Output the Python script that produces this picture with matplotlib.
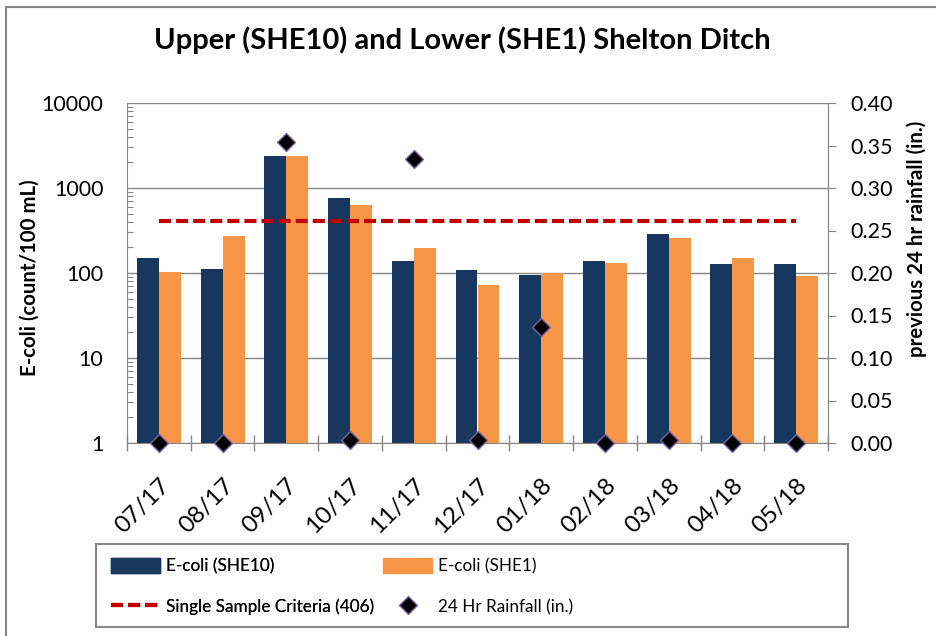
import numpy as np
import matplotlib
matplotlib.use('Agg')
import matplotlib.pyplot as plt
from matplotlib.patches import Rectangle, Patch
from matplotlib.lines import Line2D

plt.rcParams['font.family'] = ['Lato', 'DejaVu Sans']

months = ['07/17', '08/17', '09/17', '10/17', '11/17', '12/17',
          '01/18', '02/18', '03/18', '04/18', '05/18']
she10 = [151, 111, 2400, 760, 138, 108, 95, 140, 285, 128, 128]
she1 = [103, 272, 2400, 635, 195, 73, 99, 131, 256, 151, 91]
rain = [0.0, 0.0, 0.354, 0.003, 0.334, 0.003, 0.137, 0.0, 0.003, 0.0, 0.0]
criteria = 406

navy = '#17375E'
orange = '#F79646'
red = '#C00000'
grey = '#868686'

W, H = 936, 636
fig = plt.figure(figsize=(W / 100, H / 100), dpi=100)

# outer chart border (cut off on right/bottom like the original)
fig.patches.append(Rectangle((6 / W, -0.05), 1.2, 1 - 7 / H + 0.05,
                             transform=fig.transFigure, fill=False,
                             edgecolor=grey, lw=1.5))
# legend box
fig.patches.append(Rectangle((96 / W, 1 - 627 / H), (848 - 96) / W, (627 - 544) / H,
                             transform=fig.transFigure, fill=False,
                             edgecolor=grey, lw=1.5))

ax = fig.add_axes([127 / W, 1 - 443 / H, (828 - 127) / W, (443 - 103) / H])
x = np.arange(len(months))
bw = 0.345
ax.bar(x - bw / 2, she10, bw, color=navy, zorder=2)
ax.bar(x + bw / 2, she1, bw, color=orange, zorder=2)
ax.plot(x, np.full(len(x), criteria), color=red, lw=3,
        dashes=(2.9, 1.2), zorder=3)

ax.set_yscale('log')
ax.set_ylim(1, 10000)
ax.set_xlim(-0.5, len(x) - 0.5)
ax.set_yticks([1, 10, 100, 1000, 10000])
ax.set_yticklabels(['1', '10', '100', '1000', '10000'])
ax.yaxis.grid(True, which='major', color=grey, lw=1, zorder=0)
ax.tick_params(axis='y', which='major', direction='in', length=0, pad=17,
               labelsize=15.5, color=grey)
ax.tick_params(axis='y', which='minor', direction='in', length=4.5,
               color=grey, width=0.8)
ax.set_xticks(np.arange(-0.5, len(x), 1.0))
ax.set_xticklabels([])
ax.set_xticks(x, minor=True)
ax.set_xticklabels(months, minor=True, rotation=45, ha='right',
                   rotation_mode='anchor', fontsize=17.5)
ax.tick_params(axis='x', which='major', direction='inout', length=11,
               color=grey, width=1)
ax.tick_params(axis='x', which='minor', length=0, pad=23)
for s in ax.spines.values():
    s.set_color(grey)
ax.spines['top'].set_visible(False)

ax2 = ax.twinx()
ax2.set_ylim(0, 0.4)
ax2.set_yticks(np.arange(0, 0.41, 0.05))
ax2.set_yticklabels(['%.2f' % v for v in np.arange(0, 0.41, 0.05)])
ax2.tick_params(axis='y', direction='out', length=6, pad=10, labelsize=15.5,
                color=grey)
for s in ax2.spines.values():
    s.set_visible(False)
ax2.spines['right'].set_visible(True)
ax2.spines['right'].set_color(grey)
ax2.plot(x, rain, linestyle='none', marker='D', ms=9, color='black',
         markeredgecolor='#8064A2', markeredgewidth=1, zorder=5, clip_on=False)

fig.text(462 / W, 1 - 40 / H, 'Upper (SHE10) and Lower (SHE1) Shelton Ditch',
         ha='center', va='center', fontsize=21, fontweight='bold')
fig.text(30 / W, 1 - 278 / H, 'E-coli (count/100 mL)', rotation=90,
         ha='center', va='center', fontsize=14.7, fontweight='bold')
fig.text(917 / W, 1 - 239 / H, 'previous 24 hr rainfall (in.)', rotation=90,
         ha='center', va='center', fontsize=14.7, fontweight='bold')

leg_kw = dict(loc='center left', fontsize=12.3, handlelength=2.87,
              handleheight=1.0, handletextpad=0.35, labelspacing=1.43,
              borderpad=0, borderaxespad=0, frameon=False)
leg1 = fig.legend([Patch(color=navy),
                   Line2D([], [], color=red, lw=3, dashes=(2.9, 1.2))],
                  ['E-coli (SHE10)', 'Single Sample Criteria (406)'],
                  bbox_to_anchor=(111 / W, 1 - 586.5 / H), **leg_kw)
fig.add_artist(leg1)
fig.legend([Patch(color=orange),
            Line2D([], [], linestyle='none', marker='D', ms=9, color='black',
                   markeredgecolor='#8064A2')],
           ['E-coli (SHE1)', '24 Hr Rainfall (in.)'],
           bbox_to_anchor=(383 / W, 1 - 586.5 / H), **leg_kw)

fig.savefig('out.png', dpi=100)
